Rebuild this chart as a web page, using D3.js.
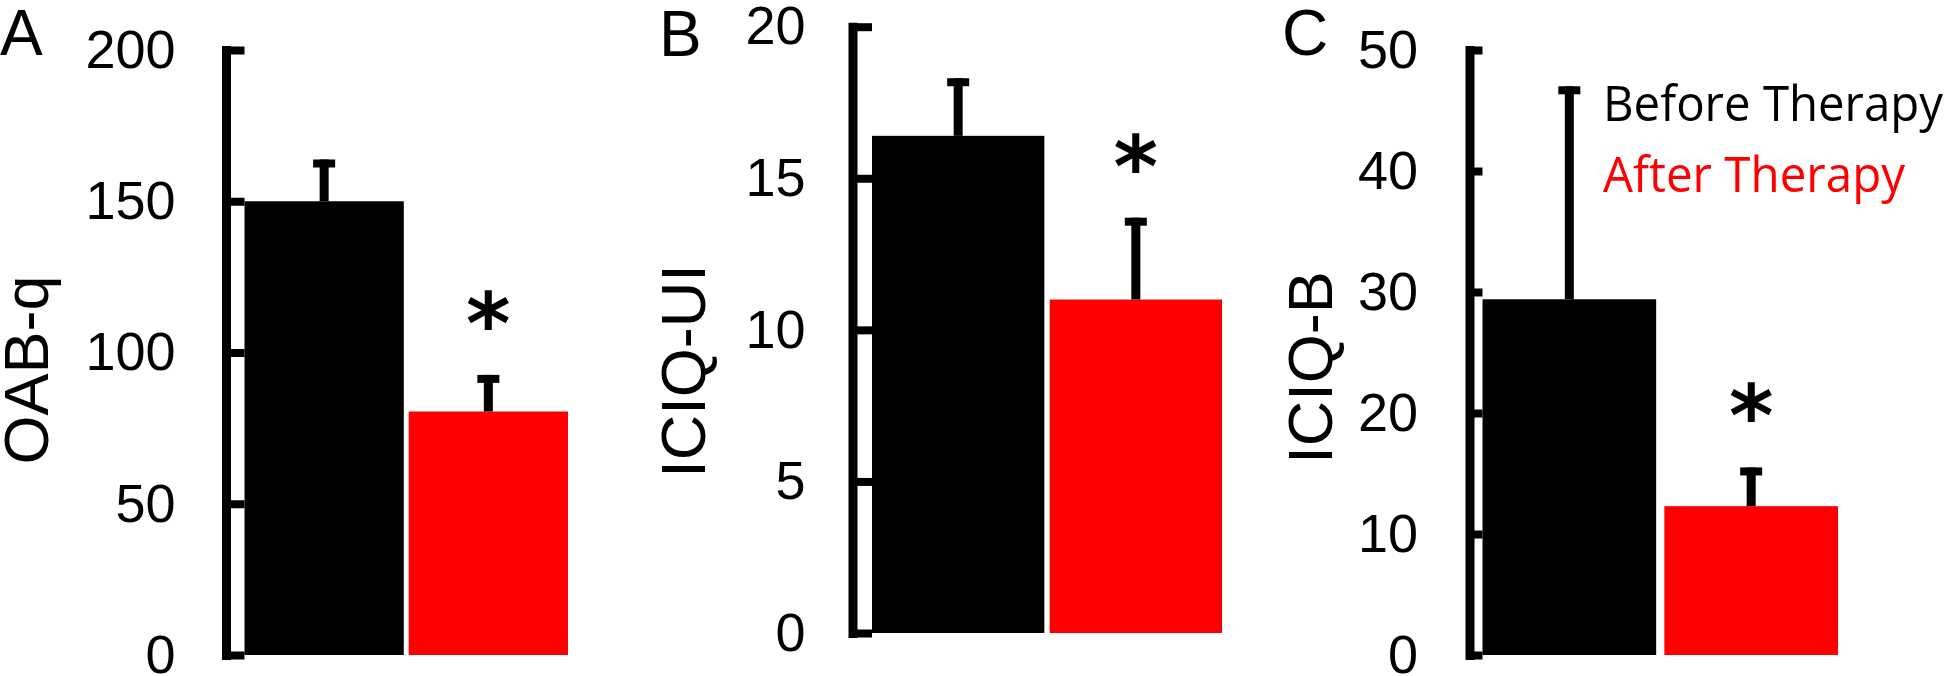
<!DOCTYPE html>
<html lang="en">
<head>
<meta charset="UTF-8">
<title>OAB-q / ICIQ-UI / ICIQ-B before and after therapy</title>
<style>
    body { margin: 0; background: #fff; }
    svg { display: block; }
    text { font-family: "Liberation Sans", Arial, sans-serif; fill: #000; }
    .legend { font-family: "Open Sans", Lato, sans-serif; }
</style>
</head>
<body>
<svg id="chart" width="1950" height="676"></svg>
<script src="https://d3js.org/d3.v7.min.js"></script>
<script>
    // data (mean and error bar length)
    const groups = ["Before Therapy", "After Therapy"];
    const colors = ["#000000", "#ff0000"];

    const oabMean = [150, 80.5];
    const oabErr = [13.8, 12.1];
    const oabTicks = [0, 50, 100, 150, 200];

    const uiMean = [16.4, 11.0];
    const uiErr = [1.9, 2.7];
    const uiTicks = [0, 5, 10, 15, 20];

    const bMean = [29.4, 12.3];
    const bErr = [17.6, 3.2];
    const bTicks = [0, 10, 20, 30, 40, 50];

    // layout of the three panels
    const panels = [
        {letter: "A", title: "OAB-q", mean: oabMean, err: oabErr, ticks: oabTicks,
            axisX: 226.5, top: 50, bottom: 655, tick: 18, pad: 51, barsTo: 568, gap: 0.03,
            letterX: 0, letterY: 55, titleX: 48, titleY: 370},
        {letter: "B", title: "ICIQ-UI", mean: uiMean, err: uiErr, ticks: uiTicks,
            axisX: 853, top: 26.7, bottom: 633, tick: 19, pad: 47.5, barsTo: 1222, gap: 0.03,
            letterX: 659, letterY: 56, titleX: 705, titleY: 371},
        {letter: "C", title: "ICIQ-B", mean: bMean, err: bErr, ticks: bTicks,
            axisX: 1470, top: 50, bottom: 655, tick: 12.5, pad: 52, barsTo: 1838, gap: 0.045,
            letterX: 1282, letterY: 55, titleX: 1332, titleY: 367.5}
    ];

    const svg = d3.select("#chart");
    svg.append("rect").attr("width", 1950).attr("height", 676).attr("fill", "#fff");

    // size the asterisk from its ink box
    const starFont = "bold 100px 'DejaVu Sans'";
    const ctx = document.createElement("canvas").getContext("2d");
    ctx.font = starFont;
    const m = ctx.measureText("*");
    const starH = m.actualBoundingBoxAscent + m.actualBoundingBoxDescent;
    const starSize = 40 / starH * 100;
    const starShift = -(m.actualBoundingBoxDescent - m.actualBoundingBoxAscent) / 2 * starSize / 100;

    panels.forEach(p => {
        const y = d3.scaleLinear()
            .domain([0, d3.max(p.ticks)])
            .range([p.bottom, p.top]);

        const x = d3.scaleBand()
            .domain(groups)
            .range([p.axisX + p.tick, p.barsTo])
            .paddingInner(p.gap);

        const g = svg.append("g");

        g.selectAll("rect.bar")
            .data(groups)
            .join("rect")
            .attr("class", "bar")
            .attr("x", d => x(d))
            .attr("width", x.bandwidth())
            .attr("y", (d, i) => y(p.mean[i]))
            .attr("height", (d, i) => y(0) - y(p.mean[i]))
            .attr("fill", (d, i) => colors[i]);

        // error bars, upper half only
        g.selectAll("rect.stem")
            .data(groups)
            .join("rect")
            .attr("class", "stem")
            .attr("x", d => x(d) + x.bandwidth() / 2 - 4.5)
            .attr("width", 9)
            .attr("y", (d, i) => y(p.mean[i] + p.err[i]))
            .attr("height", (d, i) => y(p.mean[i]) - y(p.mean[i] + p.err[i]))
            .attr("fill", "#000");

        g.selectAll("rect.cap")
            .data(groups)
            .join("rect")
            .attr("class", "cap")
            .attr("x", d => x(d) + x.bandwidth() / 2 - 11)
            .attr("width", 22)
            .attr("y", (d, i) => y(p.mean[i] + p.err[i]))
            .attr("height", 8)
            .attr("fill", "#000");

        // significance mark over the after-therapy bar
        g.append("text")
            .attr("x", x(groups[1]) + x.bandwidth() / 2)
            .attr("y", y(p.mean[1] + p.err[1]) - 65 + starShift)
            .attr("text-anchor", "middle")
            .style("font", starFont.replace("100px", starSize + "px"))
            .text("*");

        const axis = g.append("g")
            .attr("transform", `translate(${p.axisX},0)`)
            .call(d3.axisLeft(y)
                .tickValues(p.ticks)
                .tickSize(-p.tick)
                .tickSizeOuter(0)
                .tickPadding(p.pad));

        axis.select(".domain").remove();
        axis.append("line")
            .attr("y1", y.range()[0] + 5)
            .attr("y2", y.range()[1] - 4)
            .attr("stroke", "#000")
            .attr("stroke-width", 9);
        axis.selectAll(".tick line").attr("stroke-width", 8);
        axis.selectAll(".tick text").attr("font-size", 54);

        svg.append("text")
            .attr("x", p.letterX)
            .attr("y", p.letterY)
            .attr("font-size", 64)
            .text(p.letter);

        svg.append("text")
            .attr("transform", `translate(${p.titleX},${p.titleY}) rotate(-90)`)
            .attr("text-anchor", "middle")
            .attr("font-size", 63)
            .text(p.title);
    });

    // legend in panel C
    const legendLen = [340, 302];
    svg.selectAll("text.legend")
        .data(groups)
        .join("text")
        .attr("class", "legend")
        .attr("x", 1603)
        .attr("y", (d, i) => 121 + i * 71)
        .attr("font-size", 49)
        .attr("textLength", (d, i) => legendLen[i])
        .attr("lengthAdjust", "spacingAndGlyphs")
        .style("fill", (d, i) => colors[i])
        .text(d => d);
</script>
</body>
</html>
